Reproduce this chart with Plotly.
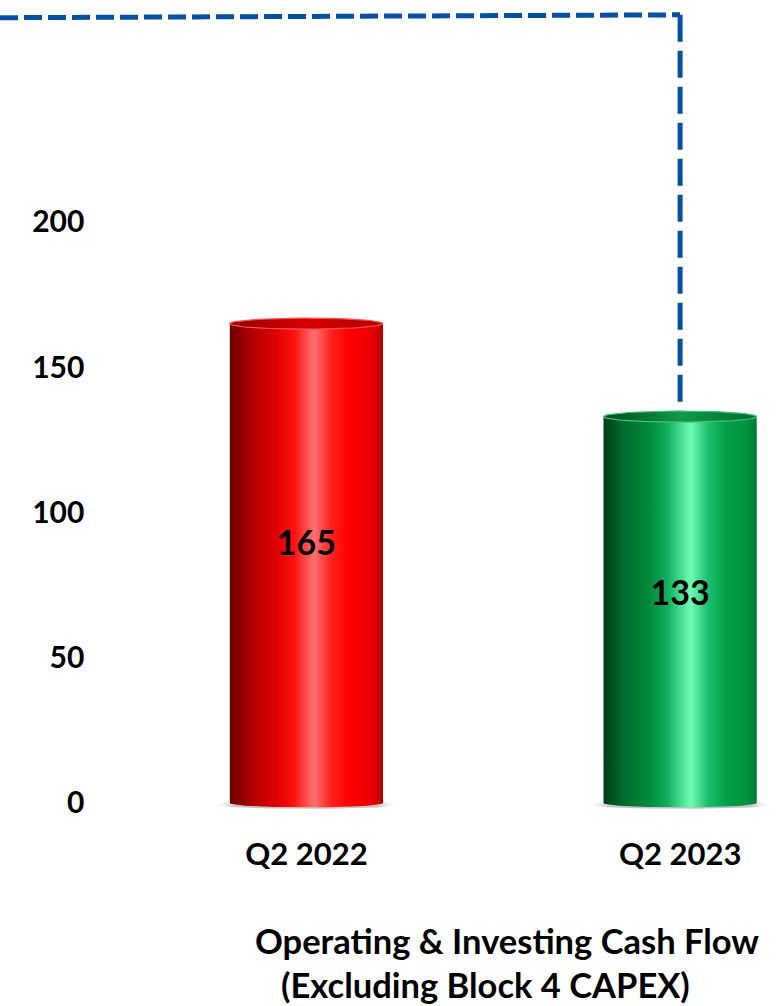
import numpy as np
import plotly.graph_objects as go

# ---- data ----
categories = ["Q2 2022", "Q2 2023"]
values = [165, 133]
value_labels = ["165", "133"]
y_ticks = [0, 50, 100, 150, 200]
guide_level = [270.3, 271.3]          # dashed guide line: height at left end, at right end
title_lines = ["Operating & Investing Cash Flow", "(Excluding Block 4 CAPEX)"]

# ---- styling ----
FONT = "Lato"
BAR_HALF = 0.205        # half bar width (x units)
CAP_H = 1.9             # semi-height of cylinder ellipses (y units)
SHADOW_HALF = 0.25

body_scales = [
    [[0.0, "#6a0000"], [0.12, "#a80000"], [0.3, "#e00000"], [0.42, "#ff1010"],
     [0.55, "#ff7272"], [0.66, "#ff2020"], [0.78, "#ff0000"], [0.93, "#e80000"], [1.0, "#b00000"]],
    [[0.0, "#003d18"], [0.12, "#006a2c"], [0.3, "#008a3c"], [0.42, "#12b060"],
     [0.57, "#70ffb4"], [0.68, "#1cc070"], [0.8, "#00a048"], [0.93, "#00943f"], [1.0, "#007a33"]],
]
cap_scales = [
    [[0.0, "#900000"], [0.5, "#d80000"], [1.0, "#b00000"]],
    [[0.0, "#004a1e"], [0.5, "#0e9a48"], [1.0, "#006a2c"]],
]
cap_lines = ["#ff5050", "#40c080"]

xs = list(range(len(categories)))
fig = go.Figure()

# soft shadows under the cylinders
t = np.linspace(0, 2 * np.pi, 80)
for x in xs:
    fig.add_trace(go.Scatter(
        x=x + SHADOW_HALF * np.cos(t), y=-0.6 + 1.4 * np.sin(t),
        fill="toself", mode="lines", line=dict(width=0),
        fillgradient=dict(type="horizontal", colorscale=[
            [0.0, "rgba(255,255,255,0)"], [0.12, "rgba(150,150,150,0.55)"],
            [0.88, "rgba(150,150,150,0.55)"], [1.0, "rgba(255,255,255,0)"]]),
        hoverinfo="skip", showlegend=False))

# dashed guide line from the top-left corner down to the Q2 2023 cylinder
x_left = -0.82
fig.add_trace(go.Scatter(
    x=[x_left, xs[1]], y=guide_level, mode="lines",
    line=dict(color="#0650a2", width=5, dash="18px,6px"),
    hoverinfo="skip", showlegend=False))
fig.add_trace(go.Scatter(
    x=[xs[1], xs[1]], y=[guide_level[1], values[1]], mode="lines",
    line=dict(color="#0650a2", width=5, dash="27px,9px"),
    hoverinfo="skip", showlegend=False))

# cylinder bodies
tb = np.linspace(np.pi, 2 * np.pi, 40)
for x, v, sc in zip(xs, values, body_scales):
    px = list(x + BAR_HALF * np.cos(tb)) + [x + BAR_HALF, x - BAR_HALF, x - BAR_HALF]
    py = list(CAP_H * 0.8 * np.sin(tb)) + [v, v, 0]
    fig.add_trace(go.Scatter(
        x=px, y=py, fill="toself", mode="lines", line=dict(width=0),
        fillgradient=dict(type="horizontal", colorscale=sc),
        hoverinfo="skip", showlegend=False))

# top caps
for x, v, sc, lc in zip(xs, values, cap_scales, cap_lines):
    fig.add_trace(go.Scatter(
        x=x + BAR_HALF * np.cos(t), y=v + CAP_H * np.sin(t),
        fill="toself", mode="lines", line=dict(width=1.2, color=lc),
        fillgradient=dict(type="horizontal", colorscale=sc),
        hoverinfo="skip", showlegend=False))

# value labels
fig.add_trace(go.Scatter(
    x=xs, y=[v * 0.535 for v in values], mode="text", text=value_labels,
    textfont=dict(family=FONT, size=34, color="#000000", weight=700),
    hoverinfo="skip", showlegend=False))

fig.update_layout(
    width=781, height=1006,
    margin=dict(l=0, r=0, t=0, b=194),
    paper_bgcolor="white", plot_bgcolor="white",
    xaxis=dict(range=[x_left, 1.27], tickvals=xs, ticktext=categories,
               showgrid=False, zeroline=False, showline=False, ticks="",
               ticklabelstandoff=21,
               tickfont=dict(family=FONT, size=31, color="#000000", weight=700)),
    yaxis=dict(range=[-3.1, 276.4], tickvals=y_ticks, anchor="free", position=0.108,
               showgrid=False, zeroline=False, showline=False, ticks="",
               tickfont=dict(family=FONT, size=30, color="#000000", weight=700)),
    annotations=[
        dict(text=title_lines[0], x=0.649, y=-0.158, xref="paper", yref="paper",
             showarrow=False, xanchor="center", yanchor="middle",
             font=dict(family=FONT, size=34.5, color="#000000", weight=700)),
        dict(text=title_lines[1], x=0.622, y=-0.213, xref="paper", yref="paper",
             showarrow=False, xanchor="center", yanchor="middle",
             font=dict(family=FONT, size=34.5, color="#000000", weight=700)),
    ],
)

fig.write_html("out.html")
